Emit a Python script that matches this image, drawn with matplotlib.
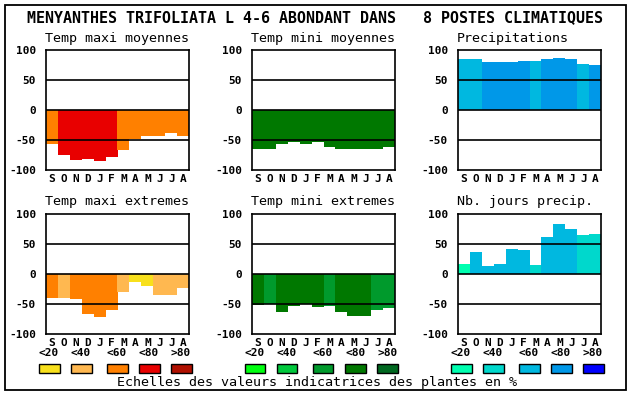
import matplotlib
matplotlib.use("Agg")
import matplotlib.pyplot as plt
from matplotlib.patches import Rectangle

months = ["S", "O", "N", "D", "J", "F", "M", "A", "M", "J", "J", "A"]
yticks = [100, 50, 0, -50, -100]
legend_labels = ["<20", "<40", "<60", "<80", ">80"]

title = "MENYANTHES TRIFOLIATA L 4-6 ABONDANT DANS   8 POSTES CLIMATIQUES"
footer = "Echelles des valeurs indicatrices des plantes en %"

temp_colors = ["#F8E01C", "#FFB850", "#FF8000", "#E80000", "#B01000"]
mini_colors = ["#00FF10", "#00C83C", "#009A2C", "#007800", "#006820"]
prec_colors = ["#00FFB0", "#00D8CC", "#00B8E0", "#0098E8", "#0000FF"]

tmax_moy = [-56, -75, -83, -82, -85, -78, -66, -48, -43, -43, -38, -43]
tmax_moy_lvl = [2, 3, 3, 3, 3, 3, 2, 2, 2, 2, 2, 2]
tmin_moy = [-65, -64, -57, -53, -56, -53, -62, -65, -65, -65, -65, -61]
tmin_moy_lvl = [3, 3, 3, 3, 3, 3, 3, 3, 3, 3, 3, 3]
precip = [85, 85, 80, 80, 80, 82, 82, 85, 87, 85, 77, 75]
precip_lvl = [2, 2, 3, 3, 3, 3, 2, 3, 3, 3, 2, 3]
tmax_ext = [-41, -41, -42, -67, -72, -60, -31, -14, -20, -36, -36, -24]
tmax_ext_lvl = [2, 1, 2, 2, 2, 2, 1, 0, 0, 1, 1, 1]
tmin_ext = [-52, -50, -64, -54, -51, -56, -54, -64, -70, -70, -61, -57]
tmin_ext_lvl = [3, 2, 3, 3, 3, 3, 2, 3, 3, 3, 2, 2]
jours = [17, 37, 14, 17, 42, 40, 15, 62, 84, 75, 65, 67]
jours_lvl = [0, 2, 2, 2, 2, 2, 1, 2, 2, 2, 1, 1]

W, H = 630, 394
fig = plt.figure(figsize=(W / 100, H / 100), dpi=100)
fig.patch.set_facecolor("white")

MONO = "DejaVu Sans Mono"


def px(x, y):
    return x / W, 1 - y / H


# outer frame
fig.patches.append(Rectangle(px(4.7, 390), (626 - 4.7) / W, (390 - 4.7) / H,
                             transform=fig.transFigure, fill=False,
                             edgecolor="black", linewidth=1.3))

fig.text(*px(27, 18), title, family=MONO, fontsize=10.8, fontweight="bold",
         ha="left", va="center")

panels = [
    ("Temp maxi moyennes", tmax_moy, tmax_moy_lvl, temp_colors, 45.7, 50.3),
    ("Temp mini moyennes", tmin_moy, tmin_moy_lvl, mini_colors, 251.7, 50.3),
    ("Precipitations", precip, precip_lvl, prec_colors, 457.7, 50.3),
    ("Temp maxi extremes", tmax_ext, tmax_ext_lvl, temp_colors, 45.7, 214.0),
    ("Temp mini extremes", tmin_ext, tmin_ext_lvl, mini_colors, 251.7, 214.0),
    ("Nb. jours precip.", jours, jours_lvl, prec_colors, 457.7, 214.0),
]

aw, ah = 143.6, 119.8
for name, vals, lvls, cols, x0, y0 in panels:
    l, b = px(x0, y0 + ah)
    ax = fig.add_axes([l, b, aw / W, ah / H])
    ax.bar(range(12), vals, width=1.0, color=[cols[k] for k in lvls],
           linewidth=0, zorder=2)
    for yv in (50, 0, -50):
        ax.axhline(yv, color="black", linewidth=1.2, zorder=3)
    ax.set_xlim(-0.5, 11.5)
    ax.set_ylim(-100, 100)
    ax.set_yticks(yticks)
    ax.set_yticklabels([str(t) for t in yticks], family=MONO,
                       fontweight="bold", fontsize=8)
    ax.set_xticks(range(12))
    ax.set_xticklabels(months, family=MONO, fontweight="bold", fontsize=8)
    ax.tick_params(length=0, pad=3)
    ax.tick_params(axis="y", pad=7)
    for s in ax.spines.values():
        s.set_linewidth(1.2)
        s.set_zorder(4)
    fig.text(*px(x0 - 0.5, y0 - 12), name, family=MONO, fontsize=9.6,
             ha="left", va="center")

# legends
legend_x = [
    [39, 71, 107, 139, 171],
    [244.7, 276.7, 312.7, 345.3, 377.3],
    [451, 483, 519, 551, 583],
]
for xs, cols in zip(legend_x, [temp_colors, mini_colors, prec_colors]):
    for x, c, lab in zip(xs, cols, legend_labels):
        fig.patches.append(Rectangle(px(x, 373), 20.5 / W, 9 / H,
                                     transform=fig.transFigure,
                                     facecolor=c, edgecolor="black",
                                     linewidth=1.0))
        fig.text(*px(x + 10, 353.5), lab, family=MONO, fontweight="bold",
                 fontsize=8, ha="center", va="center")

fig.text(*px(117, 382.5), footer, family=MONO, fontsize=9.6,
         ha="left", va="center")

fig.savefig("out.png", dpi=100, facecolor="white")
